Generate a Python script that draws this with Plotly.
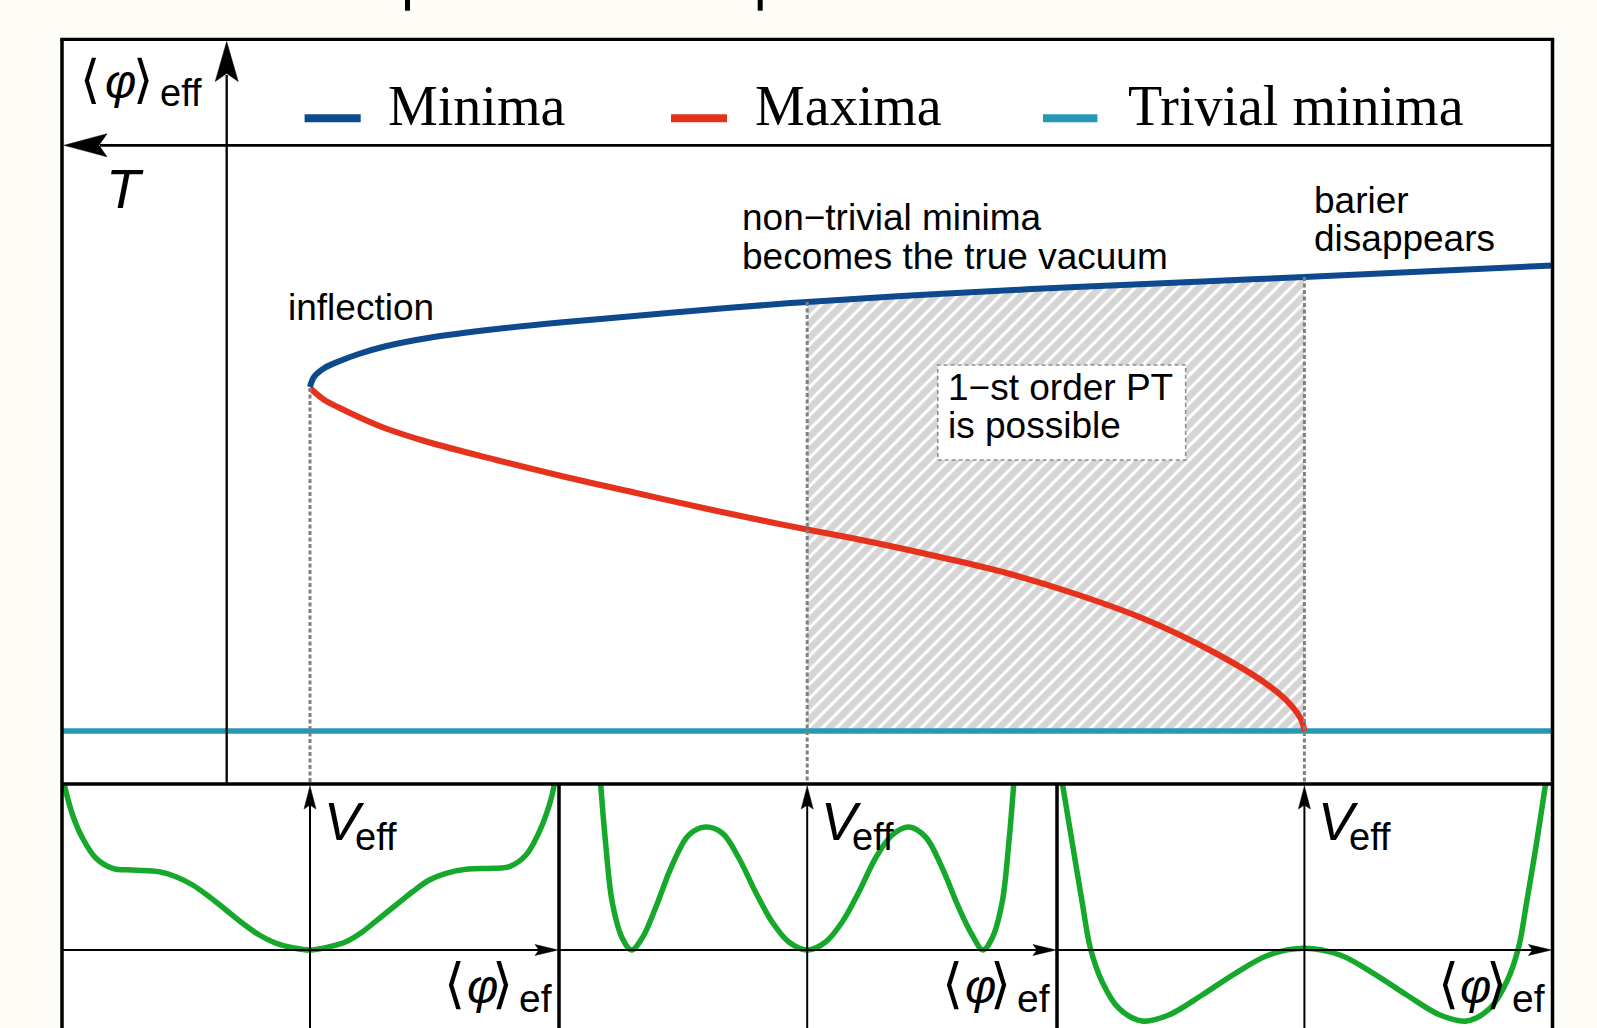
import plotly.graph_objects as go

W, H = 1597, 1028

# ---------------- data ----------------
# main diagram: temperature T (arbitrary units, grows to the left) vs <phi>_eff
T_minima = [3.0, 2.992, 2.971, 2.94, 2.902, 2.85, 2.763, 2.625, 2.486, 2.348, 2.209,
            2.071, 2.0, 1.738, 1.46, 1.183, 1.0, 0.5]
phi_minima = [3.44, 3.54, 3.63, 3.70, 3.77, 3.845, 3.93, 4.02, 4.09, 4.15, 4.21,
              4.265, 4.29, 4.37, 4.44, 4.50, 4.54, 4.655]

T_maxima = [3.0, 2.971, 2.94, 2.902, 2.85, 2.763, 2.625, 2.486, 2.348, 2.209, 2.071,
            2.0, 1.876, 1.738, 1.599, 1.46, 1.322, 1.183, 1.079, 1.031, 1.006, 1.0]
phi_maxima = [3.43, 3.31, 3.23, 3.14, 3.03, 2.89, 2.71, 2.54, 2.385, 2.23, 2.085,
              2.015, 1.895, 1.745, 1.58, 1.37, 1.12, 0.79, 0.48, 0.28, 0.11, 0.0]

T_trivial = [3.5, 0.5]
phi_trivial = [0.0, 0.0]

# special temperatures: inflection, true vacuum switch, barrier disappears
T_marks = [3.0, 2.0, 1.0]
phi_marks = [3.43, 4.29, 4.54]
T_first_order = [1.0, 2.0]

# effective potentials in the three lower panels
phi_V1 = [-2.457, -2.374, -2.274, -2.14, -1.974, -1.774, -1.507, -1.34, -1.174, -1.007,
          -0.84, -0.674, -0.507, -0.34, -0.174, 0.0, 0.193, 0.36, 0.526, 0.693, 0.86,
          1.026, 1.193, 1.36, 1.56, 1.826, 1.993, 2.16, 2.293, 2.393, 2.443]
V1 = [1.65, 1.35, 1.117, 0.917, 0.817, 0.80, 0.783, 0.733, 0.65, 0.533,
      0.40, 0.267, 0.15, 0.067, 0.023, 0.0, 0.033, 0.083, 0.183, 0.317, 0.45,
      0.583, 0.70, 0.767, 0.807, 0.817, 0.833, 0.95, 1.183, 1.45, 1.65]

phi_V2 = [-2.067, -2.017, -1.95, -1.85, -1.757, -1.65, -1.517, -1.35, -1.184, -1.017,
          -0.85, -0.684, -0.517, -0.35, -0.184, 0.0, 0.184, 0.35, 0.517, 0.684, 0.85,
          1.017, 1.184, 1.35, 1.517, 1.65, 1.757, 1.85, 1.95, 2.017, 2.067]
V2 = [1.68, 1.08, 0.48, 0.12, 0.0, 0.12, 0.42, 0.85, 1.15, 1.23,
      1.17, 0.92, 0.58, 0.28, 0.08, 0.0, 0.08, 0.28, 0.58, 0.92, 1.15,
      1.23, 1.13, 0.82, 0.42, 0.15, 0.0, 0.12, 0.48, 1.08, 1.68]

phi_V3 = [-2.423, -2.323, -2.223, -2.14, -2.023, -1.856, -1.623, -1.356, -1.023, -0.69,
          -0.356, 0.0, 0.356, 0.69, 1.023, 1.356, 1.623, 1.856, 2.023, 2.14, 2.223,
          2.323, 2.41]
V3 = [1.68, 1.08, 0.48, 0.017, -0.317, -0.583, -0.71, -0.65, -0.45, -0.233,
      -0.05, 0.017, -0.05, -0.233, -0.45, -0.65, -0.71, -0.583, -0.317, 0.017, 0.48,
      1.08, 1.65]

legend_labels = ["Minima", "Maxima", "Trivial minima"]

# ---------------- colours ----------------
C_MIN = "#0d4a8d"
C_MAX = "#e5321d"
C_TRIV = "#2798b4"
C_GREEN = "#15a82b"
C_DOT = "#808080"
CREAM = "#fdfcf7"
SANS = "Liberation Sans, Arial, DejaVu Sans, sans-serif"
SERIF = "Liberation Serif, Times New Roman, serif"
BRACKET = "DejaVu Sans, sans-serif"

# ---------------- geometry (pixels) ----------------
def fx(px):
    return px / W


def fy(py):
    return 1 - py / H


FRAME_L, FRAME_R, FRAME_T = 62.0, 1552.5, 39.3
T_LINE_Y = 145.3
PHI_AX_X = 226.7
PANEL_TOP = 784.0
DIVS = [559.0, 1057.0]
X_T3, PX_PER_T = 310.0, 497.2
PHI0_PX, PX_PER_PHI = 731.0, 100.0
V0_PX, PX_PER_V = 950.0, 100.0

main_xdom = [fx(X_T3 - 0.5 * PX_PER_T), fx(X_T3 + 2.5 * PX_PER_T)]
main_ydom = [fy(PANEL_TOP), fy(T_LINE_Y)]
main_yrange = [(PHI0_PX - PANEL_TOP) / PX_PER_PHI, (PHI0_PX - T_LINE_Y) / PX_PER_PHI]

panel_bounds = [(FRAME_L, DIVS[0]), (DIVS[0], DIVS[1]), (DIVS[1], FRAME_R)]
panel_axis_px = [X_T3 + (3 - t) * PX_PER_T for t in T_marks]
panel_yrange = [(V0_PX - H) / PX_PER_V, (V0_PX - PANEL_TOP) / PX_PER_V]

fig = go.Figure()

# hatched first-order region
hx, hy = [], []
for t, p in zip(T_minima, phi_minima):
    if T_first_order[0] <= t <= T_first_order[1]:
        hx.append(t)
        hy.append(p)
hx += [T_first_order[0], T_first_order[1]]
hy += [0.0, 0.0]
fig.add_trace(go.Scatter(
    x=hx, y=hy, mode="none", fill="toself", fillcolor="#d5d5d5",
    fillpattern=dict(shape="/", bgcolor="#d5d5d5", fgcolor="#ffffff",
                     fgopacity=1, size=10, solidity=0.3),
    hoverinfo="skip", showlegend=False))

fig.add_trace(go.Scatter(x=T_trivial, y=phi_trivial, mode="lines",
                         line=dict(color=C_TRIV, width=5.5), showlegend=False, hoverinfo="skip"))
fig.add_trace(go.Scatter(x=T_maxima, y=phi_maxima, mode="lines",
                         line=dict(color=C_MAX, width=6, shape="spline", smoothing=1.0),
                         showlegend=False, hoverinfo="skip"))
fig.add_trace(go.Scatter(x=T_minima, y=phi_minima, mode="lines",
                         line=dict(color=C_MIN, width=6, shape="spline", smoothing=1.0),
                         showlegend=False, hoverinfo="skip"))
for t, p in zip(T_marks, phi_marks):
    fig.add_trace(go.Scatter(x=[t, t], y=[p, main_yrange[0]], mode="lines",
                             line=dict(color=C_DOT, width=3, dash="4px,2.5px"),
                             showlegend=False, hoverinfo="skip"))

# lower panels
for i, (px_, py_) in enumerate([(phi_V1, V1), (phi_V2, V2), (phi_V3, V3)]):
    n = i + 2
    fig.add_trace(go.Scatter(x=px_, y=py_, mode="lines", xaxis=f"x{n}", yaxis=f"y{n}",
                             line=dict(color=C_GREEN, width=5.5, shape="spline", smoothing=1.0),
                             showlegend=False, hoverinfo="skip"))

hidden = dict(visible=False, fixedrange=True)
layout = dict(
    width=W, height=H, margin=dict(l=0, r=0, t=0, b=0),
    paper_bgcolor=CREAM, plot_bgcolor="white", showlegend=False,
    xaxis=dict(domain=main_xdom, range=[3.5, 0.5], **hidden),
    yaxis=dict(domain=main_ydom, range=main_yrange, **hidden),
)
for i, ((l, r), ax) in enumerate(zip(panel_bounds, panel_axis_px)):
    n = i + 2
    layout[f"xaxis{n}"] = dict(domain=[fx(l), fx(r)],
                               range=[(l - ax) / 100.0, (r - ax) / 100.0], **hidden)
    layout[f"yaxis{n}"] = dict(domain=[0, fy(PANEL_TOP)], range=panel_yrange,
                               anchor=f"x{n}", **hidden)
fig.update_layout(**layout)

shapes = []


def pline(x0, y0, x1, y1, w, color="black", layer="above"):
    shapes.append(dict(type="line", xref="paper", yref="paper", x0=fx(x0), y0=fy(y0),
                       x1=fx(x1), y1=fy(y1), line=dict(color=color, width=w), layer=layer))


def arrow(tipx, tipy, dx, dy, length, half, notch):
    bx, by = tipx - dx * length, tipy - dy * length
    nx, ny = -dy, dx
    nbx, nby = tipx - dx * (length - notch), tipy - dy * (length - notch)
    pts = [(tipx, tipy), (bx + nx * half, by + ny * half), (nbx, nby),
           (bx - nx * half, by - ny * half)]
    path = "M " + " L ".join(f"{fx(a):.5f},{fy(b):.5f}" for a, b in pts) + " Z"
    shapes.append(dict(type="path", xref="paper", yref="paper", path=path,
                       fillcolor="black", line=dict(color="black", width=0.5), layer="above"))


# white interior
shapes.append(dict(type="rect", xref="paper", yref="paper", x0=fx(FRAME_L), x1=fx(FRAME_R),
                   y0=0, y1=fy(FRAME_T), fillcolor="white", line=dict(width=0), layer="below"))

# top cut-off ticks
pline(407.5, 0, 407.5, 10.7, 5)
pline(760.2, 0, 760.2, 10.7, 5)

# T axis with arrow to the left
pline(100, T_LINE_Y, FRAME_R, T_LINE_Y, 2.8)
arrow(64, T_LINE_Y, -1, 0, 43, 11.5, 8)
# <phi> axis with arrow up
pline(PHI_AX_X, PANEL_TOP, PHI_AX_X, 75, 2.3)
arrow(PHI_AX_X, 41.5, 0, -1, 40, 11.5, 8)

# lower panels: axes
for (l, r), ax in zip(panel_bounds, panel_axis_px):
    pline(l, V0_PX, r - 15, V0_PX, 2)
    arrow(r - 1, V0_PX, 1, 0, 23, 5.5, 4)
    pline(ax, H, ax, 800, 2)
    arrow(ax, 786, 0, -1, 23, 6, 4)

# frame & separators
pline(FRAME_L, PANEL_TOP, FRAME_R, PANEL_TOP, 3.5)
for d in DIVS:
    pline(d, PANEL_TOP, d, H, 3.5)
pline(FRAME_L, FRAME_T, FRAME_L, H, 3.5)
pline(FRAME_R, FRAME_T, FRAME_R, H, 3.5)
pline(FRAME_L - 1.7, FRAME_T, FRAME_R + 1.7, FRAME_T, 3.2)

# legend swatches
for (x0, x1), c in zip([(304.6, 360.7), (671, 727), (1043, 1097.4)], [C_MIN, C_MAX, C_TRIV]):
    pline(x0, 118.3, x1, 118.3, 8, color=c)

# dashed annotation box (data coordinates of the main axes)
shapes.append(dict(type="rect", xref="x", yref="y", x0=1.7375, x1=1.2388, y0=2.71, y1=3.66,
                   fillcolor="white", line=dict(color="#8f8f8f", width=1.6, dash="4px,3px"),
                   layer="above"))

fig.update_layout(shapes=shapes)

ann = []


def text(t, x, base, size, family=SANS, center_off=0.3465):
    ann.append(dict(text=t, xref="paper", yref="paper", x=fx(x - 2), y=fy(base - center_off * size),
                    xanchor="left", yanchor="middle", showarrow=False,
                    font=dict(family=family, size=size, color="black")))


def glyph(t, cx, cy, size, family, off=0.09):
    ann.append(dict(text=t, xref="paper", yref="paper", x=fx(cx), y=fy(cy - off * size),
                    xanchor="center", yanchor="middle", showarrow=False,
                    font=dict(family=family, size=size, color="black")))


def phi_label(x_open, phi_dx, close_dx, cy, size_b=52, size_phi=48):
    glyph("⟨", x_open, cy, size_b, BRACKET, off=0.15)
    glyph("<i>φ</i>", x_open + phi_dx, cy - 1.5, size_phi, SANS)
    glyph("⟩", x_open + close_dx, cy, size_b, BRACKET, off=0.15)


# legend texts
for lbl, x in zip(legend_labels, [388, 755, 1128]):
    text(lbl, x, 125, 56, family=SERIF, center_off=0.3375)

# axis labels of main diagram
phi_label(90.0, 30.5, 52.5, 87.2)
text("eff", 160, 106.3, 38)
text("<i>T</i>", 106, 208, 56)

# annotations of main diagram
text("inflection", 288, 320, 37)
text("non−trivial minima", 741.5, 230, 37)
text("becomes the true vacuum", 741.5, 269.3, 37)
text("barier", 1313.5, 213.3, 37)
text("disappears", 1313.5, 251.7, 37)
text("1−st order PT", 948, 400, 37)
text("is possible", 948, 438.3, 37)

# lower panel labels
for (l, r), ax in zip(panel_bounds, panel_axis_px):
    text("<i>V</i>", ax + 14, 840, 54)
    text("eff", ax + 45, 850, 38)
    phi_label(r - 104.5, 27.5, 48.0, 992.0, size_b=54)
    text("ef", r - 40.5, 1012.3, 39)

fig.update_layout(annotations=ann)
fig.write_html(
    "out.html",
    config={"displayModeBar": False},
    post_script="document.body.style.margin='0px';"
                "document.documentElement.style.overflow='hidden';"
                "document.body.style.overflow='hidden';",
)
